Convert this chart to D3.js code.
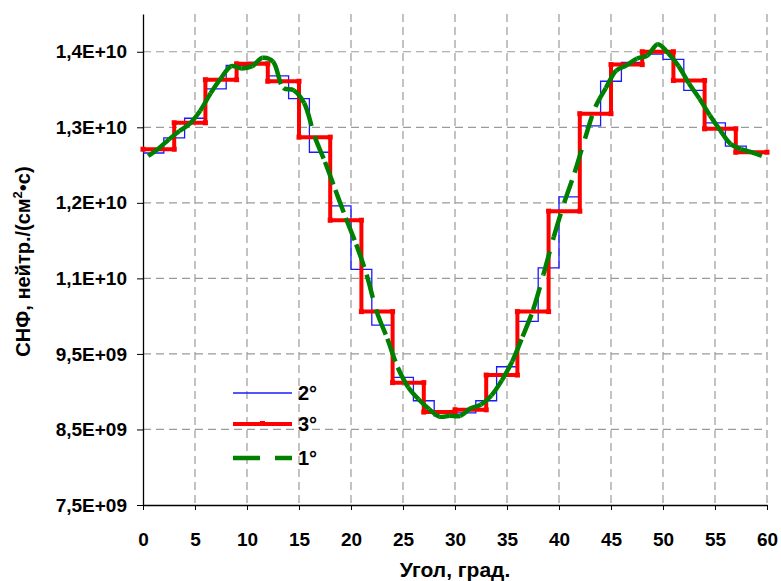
<!DOCTYPE html>
<html>
<head>
<meta charset="utf-8">
<script src="https://cdn.jsdelivr.net/npm/d3@7"></script>
<style>
  body { margin: 0; background: #fff; }
  svg text { font-family: "Liberation Sans", Arial, sans-serif; font-weight: bold; fill: #000; }
</style>
</head>
<body>
<div id="chart"></div>
<script>
// data (values in 1e9)
var xTicks = [0, 5, 10, 15, 20, 25, 30, 35, 40, 45, 50, 55, 60];
var yTicks = [7.5e9, 8.5e9, 9.5e9, 10.5e9, 11.5e9, 12.5e9, 13.5e9];
var yTickLabels = ["7,5E+09", "8,5E+09", "9,5E+09", "1,1E+10", "1,2E+10", "1,3E+10", "1,4E+10"];

// 2 degree bins
var blueStart = [0, 2, 4, 6, 8, 10, 12, 14, 16, 18, 20, 22, 24, 26, 28, 30, 32, 34, 36, 38, 40, 42, 44, 46, 48, 50, 52, 54, 56, 58];
var blueValues = [12.16, 12.36, 12.62, 13.01, 13.32, 13.36, 13.18, 12.88, 12.17, 11.46,
  10.62, 9.88, 9.19, 8.88, 8.68, 8.72, 8.88, 9.33, 9.93, 10.64,
  11.58, 12.52, 13.11, 13.36, 13.47, 13.40, 12.99, 12.56, 12.25, 12.17];

// 3 degree bins
var redStart = [0, 3, 6, 9, 12, 15, 18, 21, 24, 27, 30, 33, 36, 39, 42, 45, 48, 51, 54, 57];
var redValues = [12.21, 12.56, 13.13, 13.34, 13.11, 12.37, 11.27, 10.06, 9.12, 8.73,
  8.76, 9.22, 10.06, 11.39, 12.68, 13.33, 13.50, 13.12, 12.48, 12.17];

// 1 degree bins, plotted at bin centres
var greenAngles = [0.5, 1.5, 2.5, 3.5, 4.5, 5.5, 6.5, 7.5, 8.5, 9.5, 10.5, 11.5, 12.5, 13.5, 14.5,
  15.5, 16.5, 17.5, 18.5, 19.5, 20.5, 21.5, 22.5, 23.5, 24.5, 25.5, 26.5, 27.5, 28.5, 29.5,
  30.5, 31.5, 32.5, 33.5, 34.5, 35.5, 36.5, 37.5, 38.5, 39.5, 40.5, 41.5, 42.5, 43.5, 44.5,
  45.5, 46.5, 47.5, 48.5, 49.5, 50.5, 51.5, 52.5, 53.5, 54.5, 55.5, 56.5, 57.5, 58.5, 59.5];
var greenValues = [12.12, 12.22, 12.34, 12.45, 12.55, 12.72, 12.95, 13.15, 13.31, 13.28,
  13.31, 13.42, 13.37, 13.02, 12.99, 12.82, 12.38, 12.04, 11.67, 11.30,
  10.95, 10.55, 10.05, 9.70, 9.32, 9.06, 8.90, 8.77, 8.67, 8.68,
  8.68, 8.78, 8.83, 8.95, 9.15, 9.40, 9.73, 10.08, 10.55, 11.05,
  11.50, 11.90, 12.35, 12.77, 13.02, 13.25, 13.32, 13.41, 13.45, 13.60,
  13.48, 13.31, 13.08, 12.88, 12.66, 12.46, 12.28, 12.21, 12.17, 12.12];

// svg and chart parameters
var svgWidth = 781;
var svgHeight = 581;
var margin = { top: 14, right: 14, bottom: 76, left: 143 };
var width = svgWidth - margin.left - margin.right;
var height = svgHeight - margin.top - margin.bottom;

var svg = d3.select("#chart")
  .append("svg")
  .attr("width", svgWidth)
  .attr("height", svgHeight);

var chartGroup = svg.append("g")
  .attr("transform", `translate(${margin.left}, ${margin.top})`);

// scales
var xScale = d3.scaleLinear().domain([0, 60]).range([0, width]);
var yScale = d3.scaleLinear().domain([7.5e9, 14e9]).range([height, 0]);

// gridlines
chartGroup.append("g").selectAll("line")
  .data(yTicks.slice(1))
  .enter().append("line")
  .attr("x1", 0).attr("x2", width)
  .attr("y1", d => yScale(d)).attr("y2", d => yScale(d))
  .attr("stroke", "#9a9a9a").attr("stroke-width", 1.2)
  .attr("stroke-dasharray", "8,5");

chartGroup.append("g").selectAll("line")
  .data(xTicks.slice(1))
  .enter().append("line")
  .attr("y1", 0).attr("y2", height)
  .attr("x1", d => xScale(d)).attr("x2", d => xScale(d))
  .attr("stroke", "#9a9a9a").attr("stroke-width", 1.2)
  .attr("stroke-dasharray", "8,5");

// axes
var bottomAxis = d3.axisBottom(xScale)
  .tickValues(xTicks)
  .tickSizeInner(5).tickSizeOuter(0).tickPadding(23);
var leftAxis = d3.axisLeft(yScale)
  .tickValues(yTicks)
  .tickFormat((d, i) => yTickLabels[i])
  .tickSizeInner(6).tickSizeOuter(0).tickPadding(10);

var xAxisG = chartGroup.append("g")
  .attr("transform", `translate(0, ${height})`)
  .call(bottomAxis);
var yAxisG = chartGroup.append("g")
  .call(leftAxis);

[xAxisG, yAxisG].forEach(function(g) {
  g.select(".domain").attr("stroke", "#000").attr("stroke-width", 1.3);
  g.selectAll(".tick line").attr("stroke", "#000");
  g.selectAll(".tick text")
    .attr("font-family", null)
    .style("font-size", "19px");
});

// axis titles
chartGroup.append("text")
  .attr("x", width / 2)
  .attr("y", height + 72)
  .attr("text-anchor", "middle")
  .style("font-size", "21px")
  .text("Угол, град.");

var yTitle = chartGroup.append("text")
  .attr("transform", `translate(${23 - margin.left}, ${height / 2 + 2}) rotate(-90)`)
  .attr("text-anchor", "middle")
  .attr("dy", "0.35em")
  .style("font-size", "20px");
yTitle.append("tspan").text("СНФ, нейтр./(см");
yTitle.append("tspan").attr("dy", "-8").style("font-size", "13px").text("2");
yTitle.append("tspan").attr("dy", "8").text("•с)");

// step series
function stepPoints(starts, values, binWidth) {
  var pts = starts.map((s, i) => ({ a: s, v: values[i] * 1e9 }));
  pts.push({ a: starts[starts.length - 1] + binWidth, v: values[values.length - 1] * 1e9 });
  return pts;
}

var stepLine = d3.line()
  .x(d => xScale(d.a))
  .y(d => yScale(d.v))
  .curve(d3.curveStepAfter);

var bluePts = stepPoints(blueStart, blueValues, 2);
chartGroup.append("path")
  .attr("d", stepLine(bluePts))
  .attr("fill", "none")
  .attr("stroke", "#1a1aff")
  .attr("stroke-width", 1.3);

var redPts = stepPoints(redStart, redValues, 3);
chartGroup.append("path")
  .attr("d", stepLine(redPts))
  .attr("fill", "none")
  .attr("stroke", "#ff0000")
  .attr("stroke-width", 4);

// little square markers at the corners of the red steps
var redCorners = [];
redStart.forEach(function(s, i) {
  redCorners.push({ a: s, v: redValues[i] * 1e9 });
  redCorners.push({ a: s + 3, v: redValues[i] * 1e9 });
});
chartGroup.append("g").selectAll("rect")
  .data(redCorners)
  .enter().append("rect")
  .attr("x", d => xScale(d.a) - 2.5)
  .attr("y", d => yScale(d.v) - 2.5)
  .attr("width", 5).attr("height", 5)
  .attr("fill", "#ff0000");

// smooth 1 degree curve; each interval gets its own dash pattern like Excel does
var greenPts = greenAngles.map((a, i) => ({ a: a, v: greenValues[i] * 1e9 }));
var smoothLine = d3.line()
  .x(d => xScale(d.a))
  .y(d => yScale(d.v))
  .curve(d3.curveCatmullRom);
var pieces = smoothLine(greenPts).slice(1).split("C");
var prev = pieces[0];
var greenSegs = [];
pieces.slice(1).forEach(function(p) {
  greenSegs.push("M" + prev + "C" + p);
  var nums = p.split(",");
  prev = nums[nums.length - 2] + "," + nums[nums.length - 1];
});
chartGroup.append("g").selectAll("path")
  .data(greenSegs)
  .enter().append("path")
  .attr("d", d => d)
  .attr("fill", "none")
  .attr("stroke", "#008000")
  .attr("stroke-width", 4.5)
  .attr("stroke-dasharray", "24,12");

// legend
var legend = svg.append("g").attr("transform", "translate(233, 393)");
var legendItems = [
  { label: "2°", color: "#1a1aff", w: 1.3, dash: null },
  { label: "3°", color: "#ff0000", w: 4, dash: null },
  { label: "1°", color: "#008000", w: 4.5, dash: "27,15" }
];
legendItems.forEach(function(item, i) {
  var yy = [0, 31, 65][i];
  legend.append("line")
    .attr("x1", 0).attr("x2", 59)
    .attr("y1", yy).attr("y2", yy)
    .attr("stroke", item.color)
    .attr("stroke-width", item.w)
    .attr("stroke-dasharray", item.dash);
  if (i === 1) {
    legend.append("rect")
      .attr("x", 27).attr("y", yy - 3)
      .attr("width", 5).attr("height", 5)
      .attr("fill", item.color);
  }
  legend.append("text")
    .attr("x", 65)
    .attr("y", yy + 7)
    .style("font-size", "20px")
    .text(item.label);
});
</script>
</body>
</html>
